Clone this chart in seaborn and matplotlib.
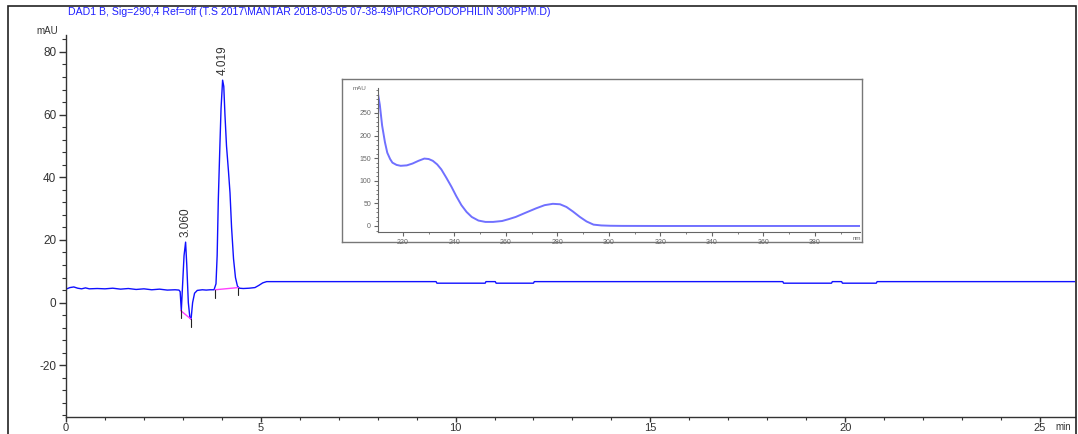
import numpy as np
import pandas as pd
import matplotlib
matplotlib.use("Agg")
import matplotlib.pyplot as plt
from matplotlib.patches import Rectangle
from matplotlib.ticker import MultipleLocator
import seaborn as sns

# chromatogram (time in min, signal in mAU)
time_min = [0.0, 0.1, 0.2, 0.3, 0.4, 0.5, 0.6, 0.8, 1.0, 1.2, 1.4, 1.6, 1.8, 2.0,
            2.2, 2.4, 2.6, 2.8, 2.9, 2.93, 2.96, 2.99, 3.03, 3.07, 3.10, 3.14,
            3.18, 3.21, 3.25, 3.30, 3.37, 3.5, 3.6, 3.7, 3.8, 3.85, 3.88, 3.91,
            3.95, 3.98, 4.02, 4.05, 4.08, 4.12, 4.17, 4.21, 4.25, 4.30, 4.35,
            4.40, 4.45, 4.55, 4.7, 4.85, 4.95, 5.05, 5.15, 5.3, 9.5, 9.52,
            10.76, 10.78, 11.02, 11.04, 12.0, 12.02, 18.4, 18.42, 19.65, 19.67,
            19.91, 19.93, 20.8, 20.82, 25.9]
signal_mau = [4.3, 4.8, 5.0, 4.6, 4.4, 4.7, 4.4, 4.5, 4.4, 4.6, 4.3, 4.5, 4.2, 4.4,
              4.1, 4.3, 4.0, 4.1, 4.0, 3.5, -2.5, 5.0, 15.0, 19.3, 12.0, 0.0,
              -4.8, -5.3, 0.0, 3.0, 3.9, 4.1, 4.0, 4.1, 4.1, 6.0, 15.0, 33.0,
              50.0, 62.0, 71.0, 69.0, 60.0, 50.0, 42.0, 35.0, 24.0, 14.0, 8.0,
              5.3, 4.6, 4.5, 4.6, 4.8, 5.5, 6.3, 6.7, 6.7, 6.7, 6.2,
              6.2, 6.7, 6.7, 6.2, 6.2, 6.7, 6.7, 6.2, 6.2, 6.7,
              6.7, 6.2, 6.2, 6.7, 6.7]

# integration baselines and peak labels
base1_t = [2.94, 3.21]
base1_v = [-2.5, -5.3]
base2_t = [3.83, 4.42]
base2_v = [4.1, 4.8]
peak_rt = [3.060, 4.019]
peak_top = [19.3, 71.0]

# UV spectrum inset (nm, mAU)
wl_nm = [210.3, 211.0, 211.9, 213.0, 213.9, 215.0, 215.9, 217.5, 219.1, 221.5,
         223.7, 226.0, 228.3, 230.0, 231.6, 233.3, 234.9, 236.8, 238.8, 240.7,
         242.7, 244.7, 246.7, 249.3, 252.0, 255.0, 258.5, 261.0, 263.8, 267.5,
         271.7, 275.0, 278.2, 281.0, 283.5, 286.0, 288.7, 291.3, 294.0, 297.0,
         300.5, 305.0, 320.0, 397.5]
absorb_mau = [292, 268, 222, 185, 162, 148, 140, 135, 133, 134,
              138, 144, 149, 148, 144, 136, 125, 107, 87, 66,
              46, 31, 20, 12, 9, 9, 11, 15, 20, 29,
              39, 46, 49, 48, 42, 32, 20, 10, 3, 1.2,
              0.5, 0.2, 0.0, 0.0]

sns.set_style("ticks")
plt.rcParams['font.family'] = ['Liberation Sans', 'DejaVu Sans']
plt.rcParams['axes.unicode_minus'] = False

W, H = 1078, 434
fig = plt.figure(figsize=(W / 100, H / 100), dpi=100)

# outer frame
fig.patches.append(Rectangle((8 / W, -0.1), (1076 - 8) / W, 1.1 - 6 / H,
                             transform=fig.transFigure, fill=False,
                             edgecolor='#222222', lw=1.2, zorder=0))

ax = fig.add_axes([66 / W, (H - 417) / H, (1075 - 66) / W, (417 - 35) / H])
ax.set_facecolor('none')
chrom = pd.DataFrame({'t': time_min, 'v': signal_mau})
sns.lineplot(data=chrom, x='t', y='v', ax=ax, color='#1010ff', lw=1.0,
             sort=False, estimator=None)
ax.plot(base1_t, base1_v, color='#ff40ff', lw=1.0)
ax.plot(base2_t, base2_v, color='#ff40ff', lw=1.0)
for t, v in zip(base1_t + base2_t, base1_v + base2_v):
    ax.plot([t, t], [v - 2.5, v], color='#222222', lw=0.8)
for rt, top in zip(peak_rt, peak_top):
    ax.text(rt, top + 1.5, f"{rt:.3f}", rotation=90, ha='center', va='bottom',
            fontsize=8.5, color='#333333')

ax.set_xlim(0, 25.9)
ax.set_ylim(-36.5, 85.4)
ax.xaxis.set_major_locator(MultipleLocator(5))
ax.xaxis.set_minor_locator(MultipleLocator(1))
ax.yaxis.set_major_locator(MultipleLocator(20))
ax.yaxis.set_minor_locator(MultipleLocator(4))
ax.tick_params(which='major', length=5, width=1, labelsize=8.5,
               colors='#333333', pad=2)
ax.tick_params(axis='x', which='major', length=3.5, pad=0.5, labelsize=8)
ax.tick_params(which='minor', length=3, width=0.8, colors='#333333')
ax.tick_params(axis='x', which='minor', length=2.5)
ax.set_xlabel('')
ax.set_ylabel('')
for s in ['top', 'right']:
    ax.spines[s].set_visible(False)
for s in ['left', 'bottom']:
    ax.spines[s].set_color('#333333')
    ax.spines[s].set_linewidth(1)

fig.text(47 / W, 1 - 31 / H, 'mAU', ha='center', va='center', fontsize=7,
         color='#333333')
fig.text(1063 / W, 1 - 427 / H, 'min', ha='center', va='center', fontsize=7,
         color='#333333')
fig.text(68 / W, 1 - 12 / H,
         'DAD1 B, Sig=290,4 Ref=off (T.S 2017\\MANTAR 2018-03-05 07-38-49\\PICROPODOPHILIN 300PPM.D)',
         ha='left', va='center', fontsize=7.6, color='#2020ff')

# inset frame
fax = fig.add_axes([342 / W, (H - 242) / H, 520 / W, 163 / H])
fax.set_xticks([])
fax.set_yticks([])
fax.set_facecolor('white')
for s in fax.spines.values():
    s.set_color('#777777')
    s.set_linewidth(1)
fax.set_zorder(2)

iax = fig.add_axes([378 / W, (H - 232) / H, (860 - 378) / W, (232 - 88) / H])
iax.set_zorder(3)
iax.set_facecolor('none')
spec = pd.DataFrame({'nm': wl_nm, 'mau': absorb_mau})
sns.lineplot(data=spec, x='nm', y='mau', ax=iax, color='#7070ff', lw=1.4,
             sort=False, estimator=None)
iax.set_xlim(210.3, 397.5)
iax.set_ylim(-13.3, 305)
iax.set_xticks(range(220, 381, 20))
iax.xaxis.set_minor_locator(MultipleLocator(10))
iax.set_yticks(range(0, 251, 50))
iax.yaxis.set_minor_locator(MultipleLocator(10))
iax.tick_params(which='major', length=3, width=0.8, labelsize=5,
                colors='#666666', pad=2)
iax.tick_params(which='minor', length=1.5, width=0.6, colors='#666666')
iax.set_xlabel('')
iax.set_ylabel('')
for s in ['top', 'right']:
    iax.spines[s].set_visible(False)
for s in ['left', 'bottom']:
    iax.spines[s].set_color('#666666')
    iax.spines[s].set_linewidth(0.8)
fig.text(360 / W, 1 - 89 / H, 'mAU', ha='center', va='center', fontsize=4.5,
         color='#666666', zorder=4)
fig.text(857 / W, 1 - 239 / H, 'nm', ha='center', va='center', fontsize=4.5,
         color='#666666', zorder=4)

fig.savefig('out.png', dpi=100)
